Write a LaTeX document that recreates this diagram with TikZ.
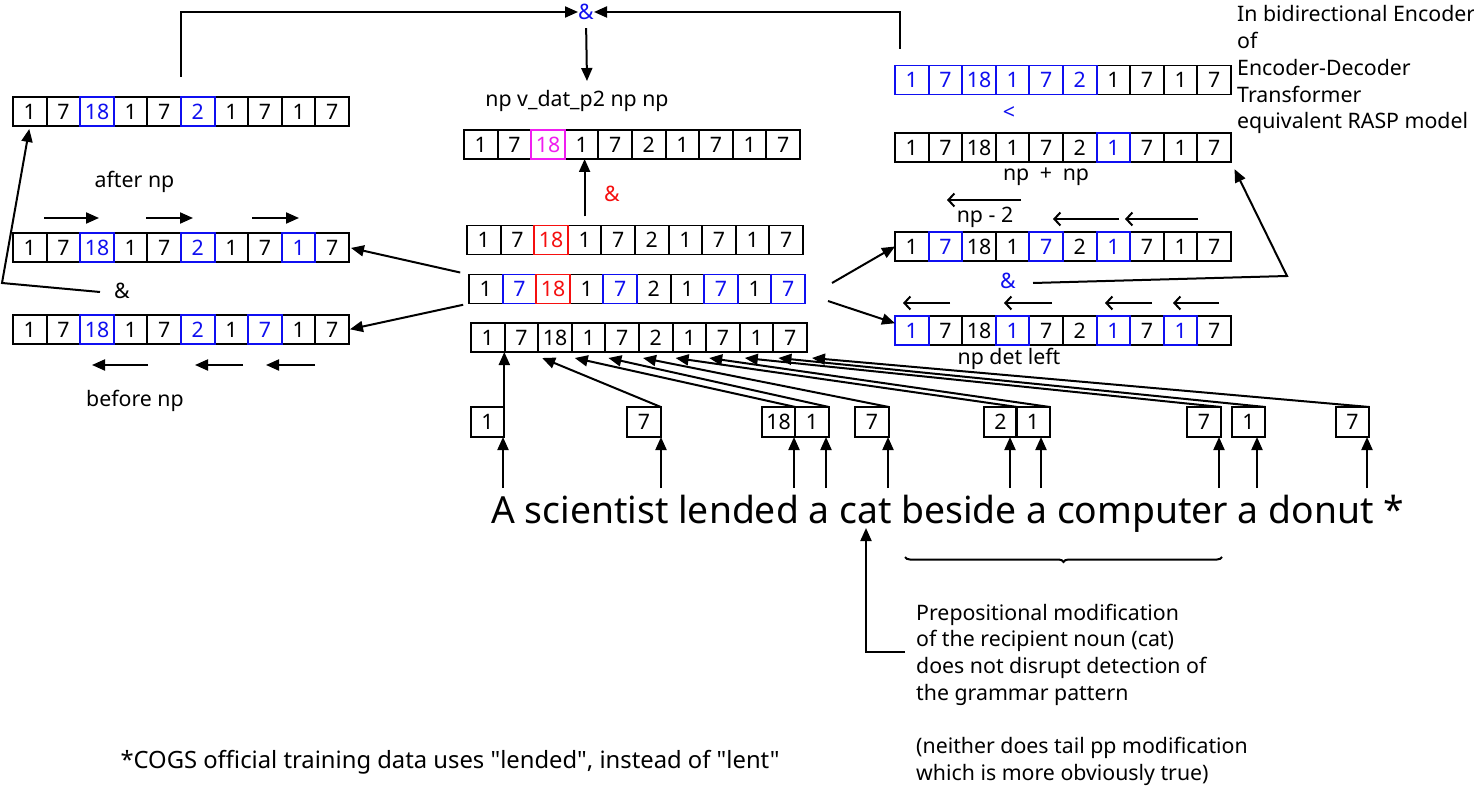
\documentclass[tikz,border=0pt]{standalone}
\usepackage{fontspec}
\setmainfont{Noto Sans}[Ligatures=TeXOff]
\usetikzlibrary{arrows.meta,decorations.pathreplacing,calc}
\definecolor{cK}{RGB}{0,0,0}
\definecolor{cB}{RGB}{15,15,240}
\definecolor{cR}{RGB}{245,15,15}
\definecolor{cM}{RGB}{240,30,240}
\newcommand\mycellfont{\fontsize{21.3}{25}\selectfont}
\newcommand\mylblfont{\fontsize{21.3}{26.7}\selectfont}
\def\blkname{cK}
\tikzset{
  cell/.style={draw, minimum width=33.6pt, minimum height=29pt, inner sep=0pt,
    outer sep=0pt, line width=1.9pt, font=\mycellfont},
  cellline/.style={line width=1.9pt},
  arr/.style={line width=2pt, -{Triangle[length=13pt,width=11pt]}},
  barb/.style={line width=2pt, -{Straight Barb[length=6pt,width=13pt,line width=2pt]}},
  ln/.style={line width=2pt},
  lbl/.style={inner sep=0pt, font=\mylblfont},
}
\newcommand\cellrow[4]{%
  \foreach \vv/\cc [count=\ii] in {#4}{%
    \node[cell,draw=\cc,text=\cc] (#1-\ii) at ({#2+(\ii-0.5)*33.6},#3) {\vv};}
  \foreach \vv/\cc [count=\ii] in {#4}{%
    \edef\tmpc{\cc}%
    \ifx\tmpc\blkname\else
      \draw[cellline,draw=\cc] (#1-\ii.south west) rectangle (#1-\ii.north east);
    \fi}}
\begin{document}
\begin{tikzpicture}[x=1pt,y=-1pt]
\useasboundingbox[fill=white] (0,0) rectangle (1474,794);

% ---------- rows of cells ----------
\cellrow{L1}{13}{111.5}{1/cK,7/cK,18/cB,1/cK,7/cK,2/cB,1/cK,7/cK,1/cK,7/cK}
\cellrow{L2}{13}{247.5}{1/cK,7/cK,18/cB,1/cK,7/cK,2/cB,1/cK,7/cK,1/cB,7/cK}
\cellrow{L3}{13}{329.5}{1/cK,7/cK,18/cB,1/cK,7/cK,2/cB,1/cK,7/cB,1/cK,7/cK}
\cellrow{M1}{464}{144.5}{1/cK,7/cK,18/cM,1/cK,7/cK,2/cK,1/cK,7/cK,1/cK,7/cK}
\cellrow{M2}{467}{240}{1/cK,7/cK,18/cR,1/cK,7/cK,2/cK,1/cK,7/cK,1/cK,7/cK}
\cellrow{M3}{469}{289}{1/cK,7/cB,18/cR,1/cK,7/cB,2/cK,1/cK,7/cB,1/cK,7/cB}
\cellrow{M4}{471}{337.5}{1/cK,7/cK,18/cK,1/cK,7/cK,2/cK,1/cK,7/cK,1/cK,7/cK}
\cellrow{R1}{895}{80}{1/cB,7/cB,18/cB,1/cB,7/cB,2/cB,1/cK,7/cK,1/cK,7/cK}
\cellrow{R2}{895}{147.5}{1/cK,7/cK,18/cK,1/cK,7/cK,2/cK,1/cB,7/cK,1/cK,7/cK}
\cellrow{R3}{895}{246.5}{1/cK,7/cB,18/cK,1/cK,7/cB,2/cK,1/cB,7/cK,1/cK,7/cK}
\cellrow{R4}{895}{330.5}{1/cB,7/cK,18/cK,1/cB,7/cK,2/cK,1/cB,7/cK,1/cB,7/cK}

% ---------- token boxes ----------
\foreach \nm/\xx/\vv in {T1/487.5/1,T2/644/7,T3/778.5/18,T4/812/1,T5/872/7,
  T6/1000.5/2,T7/1033/1,T8/1204/7,T9/1248.5/1,T10/1352.5/7}{
  \node[cell,minimum height=30pt] (\nm) at (\xx,422) {\vv};}

% ---------- labels ----------
\node[lbl] (afternp) at (134.5,182) {after np};
\node[lbl] (beforenp) at (135,401) {before np};
\node[lbl] (andL) at (122,291) {\&};
\node[lbl] (lblM1) at (577,101) {np v\_dat\_p2 np np};
\node[lbl,text=cR] (andM) at (612,194) {\&};
\node[lbl,text=cB] (andT) at (586,12) {\&};
\node[lbl,text=cB] (lt) at (1009,113) {<};
\node[lbl] (npnp) at (1046,177) {np\enspace+\enspace np};
\node[lbl] (npm) at (985,217) {np - 2};
\node[lbl,text=cB] (andR) at (1008,281) {\&};
\node[lbl] (npdet) at (1009,359) {np det left};
\foreach \tx [count=\k] in {In bidirectional Encoder,of,Encoder-Decoder,Transformer,equivalent RASP model}{
  \node[lbl,anchor=base west] (title\k) at (1237,{22+(\k-1)*26.7}) {\tx};}
\node[inner sep=0pt,anchor=base west,font=\fontsize{37.3}{40}\selectfont] (sent) at (491,523)
  {A scientist lended a cat beside a computer a donut *};
\foreach \tx [count=\k] in {Prepositional modification,of the recipient noun (cat),
  does not disrupt detection of,the grammar pattern}{
  \node[lbl,anchor=base west] (ann\k) at (916,{620+(\k-1)*26.7}) {\tx};}
\node[lbl,anchor=base west] (ann5) at (916,753) {(neither does tail pp modification};
\node[lbl,anchor=base west] (ann6) at (916,780) {which is more obviously true)};
\node[inner sep=0pt,font=\fontsize{23.8}{28}\selectfont] (foot) at (450,762)
  {*COGS official training data uses "lended", instead of "lent"};

% ---------- coordinates ----------
\coordinate (topL) at (181,77);
\coordinate (topR) at (900,49);
\coordinate (m1in) at (587,81);
\coordinate (cornL) at (2,283);
\coordinate (startL) at (100,292);
\coordinate (startR1) at (832,283);
\coordinate (startR2) at (828,301);
\coordinate (cornR) at (1287,276);
\coordinate (startAR) at (1033,283);
\coordinate (annS) at (905,652);
\coordinate (catT) at (866,528);

% ---------- top combination ----------
\draw[arr] (topL) |- (andT.west);
\draw[arr] (topR) |- (andT.east);
\draw[arr,shorten <=8pt] (andT.south) -- (m1in);

% ---------- left side ----------
\draw[arr,shorten >=3pt] (startL) -- (cornL) -- (L1-1.south);
\draw[arr,shorten <=9pt,shorten >=2pt] (M3-1.north west) -- (L2-10.east);
\draw[arr,shorten <=6pt,shorten >=1pt] (M3-1.south west) -- (L3-10.east);
\foreach \a/\b in {44/99,146/193,252/299}{\draw[arr] (\a,218) -- (\b,218);}
\foreach \a/\b in {148/92,243/195,315/266}{\draw[arr] (\a,365) -- (\b,365);}

% ---------- middle ----------
\draw[arr,shorten <=9pt] (M2-4.north) -- (M2-4.north |- M1-4.south);

% ---------- right side ----------
\draw[arr] (startR1) -- (R3-1.west);
\draw[arr] (startR2) -- ($(R4-1.west)!0.5!(R4-1.north west)$);
\draw[arr,shorten >=8pt] (startAR) -- (cornR) -- (R2-10.south east);
\draw[barb] (1021,200) -- (947,200);
\foreach \a/\b in {1119/1053,1198/1125}{\draw[barb] (\a,219) -- (\b,219);}
\foreach \a/\b in {950/903,1052/1004,1152/1105,1219/1173}{\draw[barb] (\a,303) -- (\b,303);}

% ---------- sentence to tokens ----------
\foreach \k/\xx in {1/503,2/661,3/794,4/826,5/888,6/1010,7/1041,8/1219,9/1257,10/1367}{
  \coordinate (s\k) at (\xx,488);
  \draw[arr] (s\k) -- (s\k |- T\k.south);}

% ---------- tokens to the input row ----------
\draw[arr] (T1.north east) -- (T1.north east |- M4-1.south);
\foreach \k/\c/\dx in {2/3/4,3/4/3,4/5/3,5/6/4,6/7/3,7/8/3,8/9/5,9/10/5}{
  \draw[arr] (T\k.north east) -- ($(M4-\c.south west)+(\dx,6)$);}
\draw[arr] (T10.north east) -- ($(M4-10.south east)+(5,6)$);

% ---------- brace and annotation ----------
\draw[ln,decorate,decoration={brace,mirror,amplitude=5pt}] (905,557) -- (1222,557);
\draw[arr] (annS) -| (catT);
\end{tikzpicture}
\end{document}
